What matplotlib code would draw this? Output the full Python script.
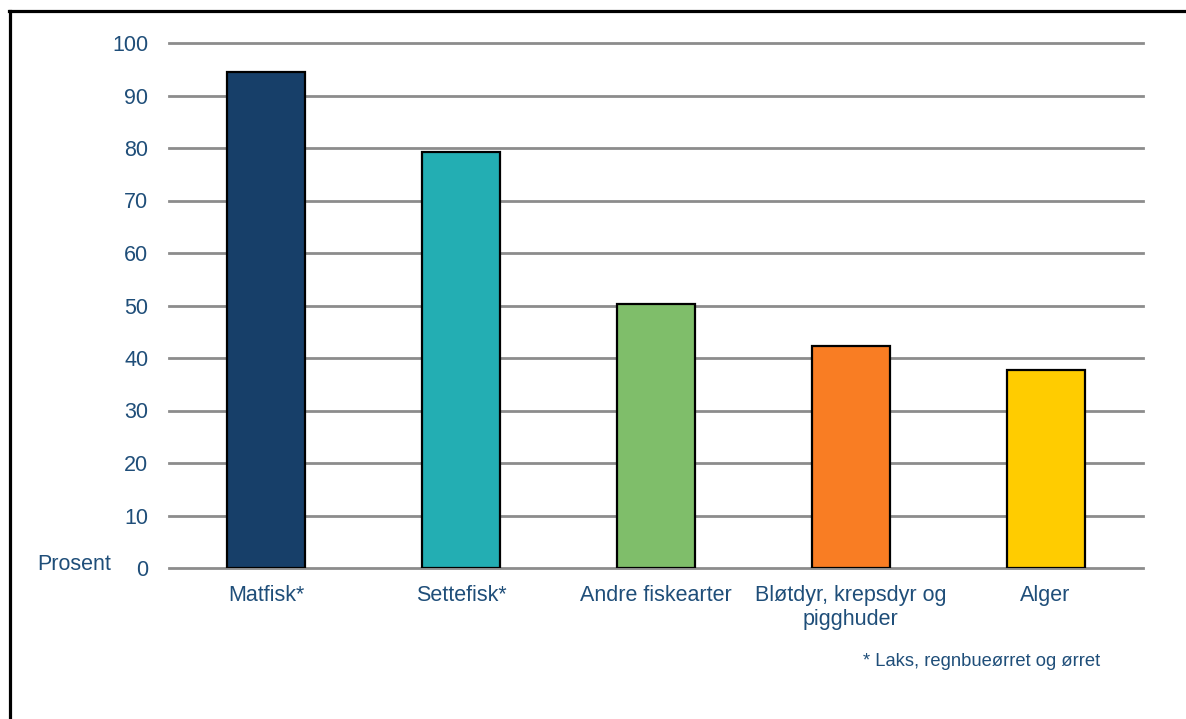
import numpy as np
import matplotlib.pyplot as plt
from matplotlib.lines import Line2D

plt.rcParams['font.family'] = ['Liberation Sans', 'DejaVu Sans']

categories = ["Matfisk*", "Settefisk*", "Andre fiskearter", "Bløtdyr, krepsdyr og\npigghuder", "Alger"]
values = [94.5, 79.2, 50.3, 42.3, 37.7]
colors = ["#173F69", "#23AEB3", "#7FBE6A", "#F97D23", "#FFCC00"]
yticks = np.arange(0, 101, 10)

text_color = "#1F4E79"

fig = plt.figure(figsize=(11.86, 7.19), dpi=100)
ax = fig.add_axes([169/1186, 1-568/719, (1143-169)/1186, (568-43)/719])

x = np.arange(len(categories))
ax.bar(x, values, width=0.4, color=colors, edgecolor="black", linewidth=1.6, zorder=3)

ax.set_xlim(-0.5, len(categories) - 0.5)
ax.set_ylim(0, 100)
ax.set_yticks(yticks)
ax.set_xticks(x)
ax.set_xticklabels(categories, fontsize=15.5, color=text_color, linespacing=1.2)
ax.tick_params(axis='y', length=0, pad=15, labelsize=15.5, labelcolor=text_color)
ax.tick_params(axis='x', length=0, pad=12)
ax.yaxis.grid(True, color="#8C8C8C", linewidth=2, zorder=0)
for gl in ax.get_ygridlines():
    gl.set_clip_on(False)
ax.set_axisbelow(True)
for s in ax.spines.values():
    s.set_visible(False)

fig.text(37/1186, 1-565/719, "Prosent", fontsize=15.5, color=text_color, ha='left', va='center')
fig.text(1100/1186, 1-661/719, "* Laks, regnbueørret og ørret", fontsize=13.2, color=text_color,
         ha='right', va='center')

# frame around the figure (left and top only visible)
fig.add_artist(Line2D([9.5/1186, 9.5/1186], [0, 1-11/719], transform=fig.transFigure, color="black", linewidth=2.3))
fig.add_artist(Line2D([8.5/1186, 1], [1-11/719, 1-11/719], transform=fig.transFigure, color="black", linewidth=2.3))

fig.savefig("out.png", dpi=100)
